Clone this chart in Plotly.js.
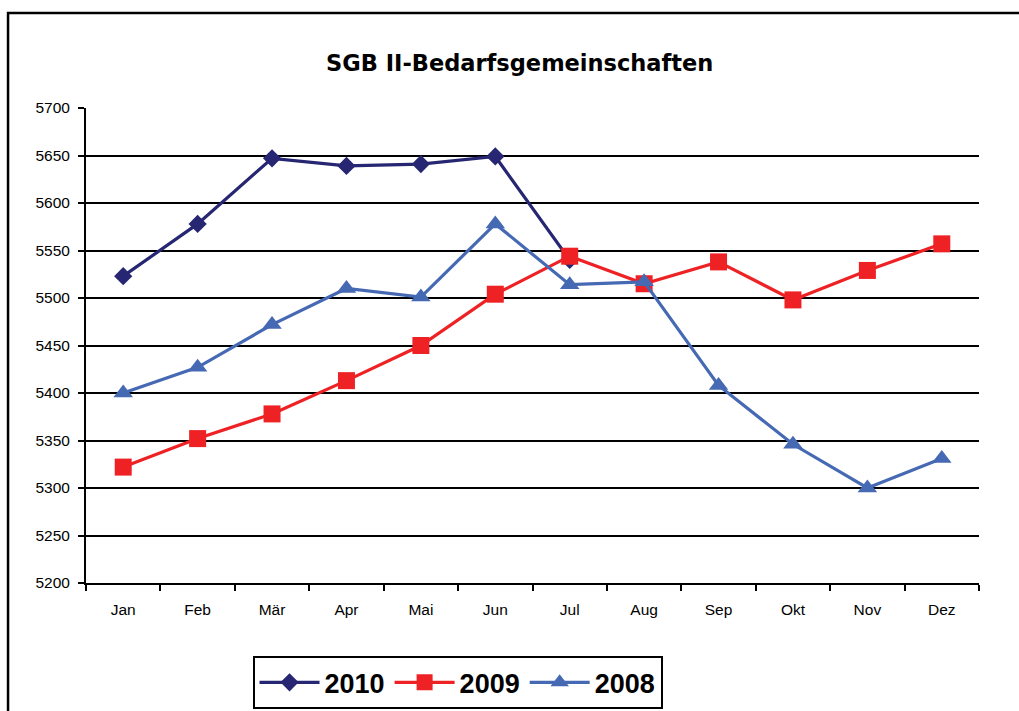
<!DOCTYPE html>
<html>
<head>
<meta charset="utf-8">
<script src="https://cdn.plot.ly/plotly-3.0.1.min.js"></script>
<style>html,body{margin:0;padding:0;background:#fff;}#chart{width:1019px;height:711px;}</style>
</head>
<body>
<div id="chart"></div>
<script>
var months = ["Jan","Feb","Mär","Apr","Mai","Jun","Jul","Aug","Sep","Okt","Nov","Dez"];
var months2010 = ["Jan","Feb","Mär","Apr","Mai","Jun","Jul"];
var values2010 = [5523, 5578, 5647, 5639, 5641, 5649, 5540];
var values2009 = [5322, 5352, 5378, 5413, 5450, 5504, 5544, 5515, 5538, 5498, 5529, 5557];
var values2008 = [5400, 5427, 5472, 5510, 5501, 5578, 5514, 5517, 5408, 5346, 5300, 5331];
var yTicks = [5200,5250,5300,5350,5400,5450,5500,5550,5600,5650,5700];

var traces = [
  {name:"2010", x:months2010, y:values2010, type:"scatter", mode:"lines+markers",
   line:{color:"#262672", width:3.2}, marker:{symbol:"diamond", size:14, color:"#262672"}},
  {name:"2009", x:months, y:values2009, type:"scatter", mode:"lines+markers",
   line:{color:"#ee2224", width:3.2}, marker:{symbol:"square", size:17, color:"#ee2224"}},
  {name:"2008", x:months, y:values2008, type:"scatter", mode:"lines+markers",
   line:{color:"#4669b4", width:3.2}, marker:{symbol:"triangle-up", size:17, color:"#4669b4"}}
];

var layout = {
  width:1019, height:711,
  margin:{l:86, r:40, t:108, b:128},
  paper_bgcolor:"#ffffff", plot_bgcolor:"#ffffff",
  title:{text:"SGB II-Bedarfsgemeinschaften", x:0.51, xanchor:"center", xref:"container",
         y:0.911, yanchor:"middle", yref:"container",
         font:{family:"DejaVu Sans, Arial, sans-serif", size:22.5, color:"#000", weight:"bold"}},
  xaxis:{type:"category", categoryarray:months, categoryorder:"array", range:[-0.5,11.5],
         showline:true, linecolor:"#000", linewidth:2, showgrid:false, zeroline:false,
         ticks:"outside", tickson:"boundaries", ticklen:6, tickwidth:2, tickcolor:"#000",
         ticklabelstandoff:11,
         tickfont:{family:"Liberation Sans, Arial, sans-serif", size:15.5, color:"#000"}},
  yaxis:{range:[5200,5700], tickvals:yTicks, ticktext:yTicks.map(String),
         showline:true, linecolor:"#000", linewidth:2, showgrid:true, gridcolor:"#000", gridwidth:2,
         zeroline:false, ticks:"outside", ticklen:6, tickwidth:2, tickcolor:"#000",
         ticklabelstandoff:5,
         tickfont:{family:"Liberation Sans, Arial, sans-serif", size:15.5, color:"#000"}},
  showlegend:true,
  legend:{orientation:"h", xref:"container", yref:"container", x:0.449, xanchor:"center",
          y:0.077, yanchor:"top", bordercolor:"#000", borderwidth:2, bgcolor:"#fff",
          itemwidth:60, traceorder:"normal",
          font:{family:"Liberation Sans, Arial, sans-serif", size:27, color:"#000", weight:"bold"}},
  shapes:[{type:"rect", xref:"paper", yref:"paper", x0:-0.0873, x1:1.1, y0:-0.5, y1:1.2,
           line:{color:"#000", width:2.5}, fillcolor:"rgba(0,0,0,0)", layer:"above"}]
};

Plotly.newPlot("chart", traces, layout, {displayModeBar:false, staticPlot:true});
</script>
</body>
</html>
